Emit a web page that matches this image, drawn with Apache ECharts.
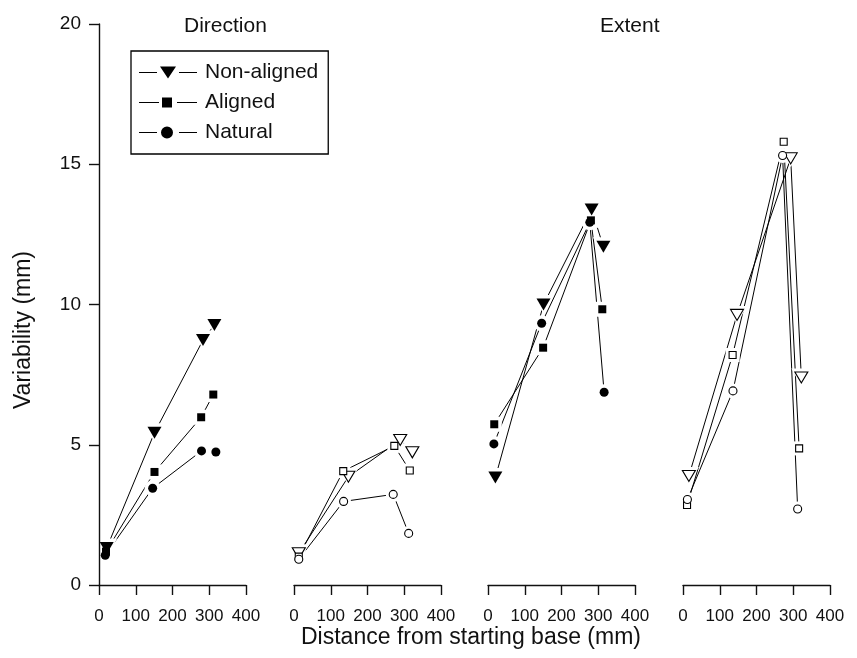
<!DOCTYPE html>
<html>
<head>
<meta charset="utf-8">
<script src="https://cdn.jsdelivr.net/npm/echarts@6/dist/echarts.min.js"></script>
<style>
html, body { margin: 0; padding: 0; background: #fff; }
#main { width: 857px; height: 658px; }
</style>
</head>
<body>
<div id="main"></div>
<script>
// groups in legend order
var groups = ['Non-aligned', 'Aligned', 'Natural'];
var xTicks = [0, 100, 200, 300, 400];
var yTicks = [0, 5, 10, 15, 20];

// Direction, filled symbols
var dirFilledX = [[21, 151, 283, 314], [19, 151, 278, 311], [17, 146, 279, 318]];
var dirFilledY = [[1.32, 5.43, 8.73, 9.27], [1.19, 4.03, 5.98, 6.79], [1.06, 3.45, 4.78, 4.74]];
// Direction, open symbols
var dirOpenX = [[13, 148, 289, 322], [13, 134, 273, 315], [13, 135, 270, 312]];
var dirOpenY = [[1.13, 3.86, 5.17, 4.73], [1.01, 4.06, 4.96, 4.08], [0.92, 2.98, 3.23, 1.84]];
// Extent, filled symbols
var extFilledX = [[20, 151, 282, 314], [17, 150, 280, 311], [16, 146, 277, 316]];
var extFilledY = [[3.83, 10.0, 13.39, 12.06], [5.73, 8.46, 13.0, 9.83], [5.03, 9.33, 12.93, 6.87]];
// Extent, open symbols
var extOpenX = [[16, 147, 293, 322], [11, 135, 274, 316], [12, 136, 271, 312]];
var extOpenY = [[3.89, 9.63, 15.21, 7.40], [2.85, 8.20, 15.80, 4.87], [3.05, 6.92, 15.31, 2.71]];

var panels = [
  { x: dirFilledX, y: dirFilledY, open: false },
  { x: dirOpenX, y: dirOpenY, open: true },
  { x: extFilledX, y: extFilledY, open: false },
  { x: extOpenX, y: extOpenY, open: true }
];

var FONT = "'Liberation Sans', Arial, Helvetica, sans-serif";
var NARROW = "'Liberation Sans Narrow', 'Arial Narrow', 'Liberation Sans', sans-serif";
var INK = '#111';

var gridLeft = [99, 294, 488, 683];
var tri = 'path://M0,0L14,0L7,12Z';
var shapes = [tri, 'rect', 'circle'];
var sizeFilled = [[14, 12], 8, 9];
var sizeOpen = [[13, 11], 7, 8];

// legend icons: line - gap - symbol - gap - line, 58 x 14 box
var bbox = 'M0,0L0.01,0Z M0,14L0.01,14Z ';
var legendIcons = [
  'path://' + bbox + 'M0,6.5L18,6.5L18,7.5L0,7.5Z M21,1L37,1L29,13Z M40,6.5L58,6.5L58,7.5L40,7.5Z',
  'path://' + bbox + 'M0,6.5L20,6.5L20,7.5L0,7.5Z M23,2L33,2L33,12L23,12Z M38,6.5L58,6.5L58,7.5L38,7.5Z',
  'path://' + bbox + 'M0,6.5L18,6.5L18,7.5L0,7.5Z M22,7A6,6 0 1,0 34,7A6,6 0 1,0 22,7Z M40,6.5L58,6.5L58,7.5L40,7.5Z'
];

function grow(s, d) {
  return Array.isArray(s) ? [s[0] + d, s[1] + d] : s + d;
}

var grids = [], xAxes = [], yAxes = [], series = [];

panels.forEach(function (p, i) {
  grids.push({ left: gridLeft[i], top: 24, width: 147, height: 561 });
  xAxes.push({
    type: 'value', gridIndex: i, min: xTicks[0], max: xTicks[xTicks.length - 1], interval: 100,
    axisLine: { show: true, onZero: false, lineStyle: { color: INK, width: 1.4 } },
    axisTick: { show: true, length: 10, lineStyle: { color: INK, width: 1.4 } },
    axisLabel: { margin: 23, fontSize: 17, fontFamily: NARROW, color: INK },
    splitLine: { show: false }
  });
  yAxes.push({
    type: 'value', gridIndex: i, min: yTicks[0], max: yTicks[yTicks.length - 1], interval: 5,
    show: i === 0, z: 10,
    axisLine: { show: true, onZero: false, lineStyle: { color: INK, width: 1.4 } },
    axisTick: { show: true, length: 10, lineStyle: { color: INK, width: 1.4 } },
    axisLabel: { margin: 18, fontSize: 19, fontFamily: FONT, color: INK },
    splitLine: { show: false }
  });

  groups.forEach(function (name, g) {
    var pts = p.x[g].map(function (v, k) { return [v, p.y[g][k]]; });
    var size = p.open ? sizeOpen[g] : sizeFilled[g];
    var fill = p.open ? '#fff' : '#000';
    // connecting line
    series.push({
      type: 'line', name: name, xAxisIndex: i, yAxisIndex: i, data: pts,
      showSymbol: false, symbol: shapes[g], symbolSize: size,
      lineStyle: { color: '#000', width: 1 },
      itemStyle: { color: fill, borderColor: '#000', borderWidth: 0 },
      z: 2, silent: true
    });
    // white halo so the lines stop short of the symbols
    series.push({
      type: 'scatter', xAxisIndex: i, yAxisIndex: i, data: pts,
      symbol: shapes[g], symbolSize: grow(size, 7),
      itemStyle: { color: '#fff', opacity: 1 }, z: 3, silent: true
    });
    // the symbols
    series.push({
      type: 'scatter', xAxisIndex: i, yAxisIndex: i, data: pts,
      symbol: shapes[g], symbolSize: size,
      itemStyle: { color: fill, borderColor: '#000', borderWidth: p.open ? 1.1 : 0, opacity: 1 },
      z: 4, silent: true
    });
  });
});

var chart = echarts.init(document.getElementById('main'));
chart.setOption({
  animation: false,
  backgroundColor: '#fff',
  grid: grids,
  xAxis: xAxes,
  yAxis: yAxes,
  series: series,
  legend: {
    data: groups.map(function (n, g) {
      return { name: n, icon: legendIcons[g], itemStyle: { color: '#000', borderWidth: 0 } };
    }),
    orient: 'vertical', left: 131, top: 51,
    padding: [11, 10, 11, 8], itemWidth: 58, itemHeight: 14, itemGap: 9,
    borderColor: '#000', borderWidth: 1.3, selectedMode: false,
    textStyle: { fontSize: 21, fontFamily: FONT, color: INK, padding: [0, 0, 0, 3] }
  },
  graphic: [
    { type: 'text', left: 226 - 42, top: 16, style: { text: 'Direction', fontSize: 21, fontFamily: FONT, fill: INK } },
    { type: 'text', left: 630 - 30, top: 16, style: { text: 'Extent', fontSize: 21, fontFamily: FONT, fill: INK } },
    { type: 'text', x: 24, y: 330, rotation: Math.PI / 2,
      style: { text: 'Variability (mm)', fontSize: 23, fontFamily: FONT, fill: INK, align: 'center', verticalAlign: 'middle' } },
    { type: 'text', x: 471, y: 638,
      style: { text: 'Distance from starting base (mm)', fontSize: 23, fontFamily: FONT, fill: INK, align: 'center', verticalAlign: 'middle' } }
  ]
});
</script>
</body>
</html>
